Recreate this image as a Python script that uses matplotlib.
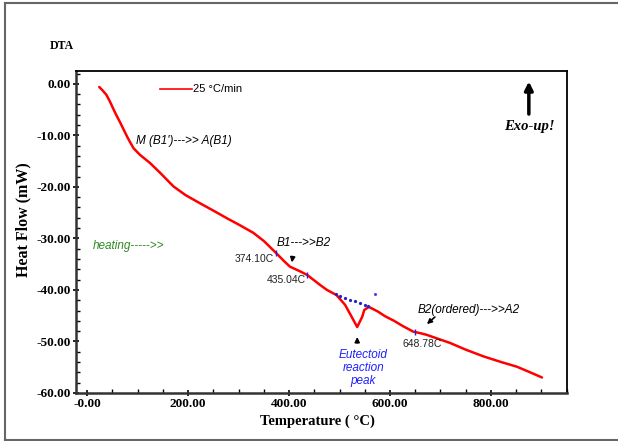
import numpy as np
import matplotlib.pyplot as plt
from matplotlib.lines import Line2D
from matplotlib.ticker import MultipleLocator

# DTA trace, 25 °C/min heating
temp = [24, 30, 38, 45, 56, 66, 79, 85, 92, 105, 125, 145, 171, 195, 224, 250,
        279, 300, 329, 350, 374, 390, 402, 422, 436, 461, 475, 494, 511, 525,
        535, 545, 549, 558, 576, 590, 608, 625, 646, 660, 672, 719, 750, 785,
        820, 851, 880, 901]
heat_flow = [-0.6, -1.2, -2.1, -3.4, -5.7, -7.6, -10.2, -11.3, -12.5, -13.8,
             -15.4, -17.3, -19.9, -21.6, -23.2, -24.6, -26.2, -27.3, -28.9,
             -30.5, -32.8, -34.4, -35.5, -36.4, -37.1, -39.0, -40.0, -41.0,
             -42.9, -45.4, -47.2, -45.2, -43.9, -43.3, -44.2, -45.1, -46.0,
             -47.0, -48.1, -48.4, -48.7, -50.3, -51.6, -52.9, -54.0, -54.9,
             -56.1, -57.0]

# onset / end markers
mark_t = [374.10, 435.04, 648.78]
mark_hf = [-32.8, -37.1, -48.1]

# baseline under the eutectoid peak
base_t = [493, 500, 510, 520, 530, 540, 550, 556]
base_hf = [-40.8, -41.1, -41.5, -41.9, -42.2, -42.5, -42.9, -43.1]

xticks = [0, 200, 400, 600, 800]
xtick_labels = ["-0.00", "200.00", "400.00", "600.00", "800.00"]
yticks = [0, -10, -20, -30, -40, -50, -60]
ytick_labels = ["0.00", "-10.00", "-20.00", "-30.00", "-40.00", "-50.00", "-60.00"]

serif = "Liberation Serif"
sans = "Liberation Sans"

fig = plt.figure(figsize=(6.18, 4.41), dpi=100)
ax = fig.add_axes([0.123, 0.109, 0.794, 0.730])

ax.plot(temp, heat_flow, color="red", lw=1.8, solid_joinstyle="round",
        solid_capstyle="round")
ax.plot(base_t, base_hf, color="#2222cc", lw=0, marker="o", ms=1.3)
ax.plot([570], [-40.8], color="#4444ee", lw=0, marker="o", ms=1.2)
ax.plot(mark_t, mark_hf, color="#2222dd", lw=0, marker="|", ms=5, mew=1)

ax.set_xlim(-22, 950)
ax.set_ylim(-60, 2.5)
ax.set_xticks(xticks)
ax.set_xticklabels(xtick_labels)
ax.set_yticks(yticks)
ax.set_yticklabels(ytick_labels)
ax.xaxis.set_minor_locator(MultipleLocator(50))
ax.yaxis.set_minor_locator(MultipleLocator(2))
ax.tick_params(which="major", direction="inout", length=5, width=1.2,
               top=False, right=False, pad=1)
ax.tick_params(which="minor", direction="in", length=3, width=1,
               top=False, right=False)
for lab in ax.get_xticklabels() + ax.get_yticklabels():
    lab.set_fontfamily(serif)
    lab.set_fontweight("bold")
    lab.set_fontsize(9.5)
for side in ["left", "bottom"]:
    ax.spines[side].set_linewidth(1.8)
    ax.spines[side].set_color("#333333")
for side in ["top", "right"]:
    ax.spines[side].set_linewidth(1.3)

# legend line
ax.plot([145, 208], [-1.0, -1.0], color="red", lw=1.2)
ax.text(210, -1.0, "25 °C/min", fontfamily=sans, fontsize=8, va="center")

ax.text(97, -11.1, "M (B1')--->> A(B1)", fontfamily=sans, fontsize=8.5,
        style="italic", va="center")
ax.text(12, -31.5, "heating----->>", fontfamily=sans, fontsize=8.5,
        style="italic", color="#2e8b22", va="center")
ax.text(376, -30.9, "B1--->>B2", fontfamily=sans, fontsize=8.5,
        style="italic", va="center")
ax.text(370, -34.0, "374.10C", fontfamily=sans, fontsize=7.5, ha="right",
        va="center", color="#222222")
ax.text(356, -38.0, "435.04C", fontfamily=sans, fontsize=7.5, ha="left",
        va="center", color="#222222")
ax.text(655, -43.9, "B2(ordered)--->>A2", fontfamily=sans, fontsize=8.5,
        style="italic", va="center")
ax.text(624, -50.5, "648.78C", fontfamily=sans, fontsize=7.5, ha="left",
        va="center", color="#222222")
ax.text(547, -55.1, "Eutectoid\nreaction\npeak", fontfamily=sans,
        fontsize=8.5, style="italic", color="#2020ff", ha="center",
        va="center", linespacing=1.1)
ax.text(877, -8.3, "Exo-up!", fontfamily=serif, fontsize=10.5,
        style="italic", fontweight="bold", ha="center", va="center")

# arrows
arrow = dict(arrowstyle="-|>", color="black", lw=1.2, mutation_scale=7)
ax.annotate("", xy=(405, -35.2), xytext=(408, -33.0), arrowprops=arrow)
ax.annotate("", xy=(535, -48.6), xytext=(535, -50.8), arrowprops=arrow)
ax.annotate("", xy=(669, -47.0), xytext=(693, -44.9), arrowprops=arrow)
ax.annotate("", xy=(875, 1.0), xytext=(875, -6.4),
            arrowprops=dict(arrowstyle="-|>", color="black", lw=2.5,
                            mutation_scale=12))

fig.text(50 / 618, 1 - 46 / 441, "DTA", fontfamily=serif, fontsize=8.5,
         fontweight="bold", va="center")
fig.text(23 / 618, 1 - 220 / 441, "Heat Flow (mW)", fontfamily=serif,
         fontsize=11.5, fontweight="bold", rotation=90, ha="center",
         va="center")
fig.text(317 / 618, 1 - 421 / 441, "Temperature ( °C)", fontfamily=serif,
         fontsize=10.5, fontweight="bold", ha="center", va="center")

# outer frame (open on the right)
x0, y0, y1 = 5 / 618, 1 - 440 / 441, 1 - 2.5 / 441
for xs, ys in [([x0, x0], [y0, y1]), ([x0, 1.02], [y1, y1]), ([x0, 1.02], [y0, y0])]:
    fig.add_artist(Line2D(xs, ys, color="#666666", lw=1.5,
                          transform=fig.transFigure))

fig.savefig("out.png", dpi=100)
